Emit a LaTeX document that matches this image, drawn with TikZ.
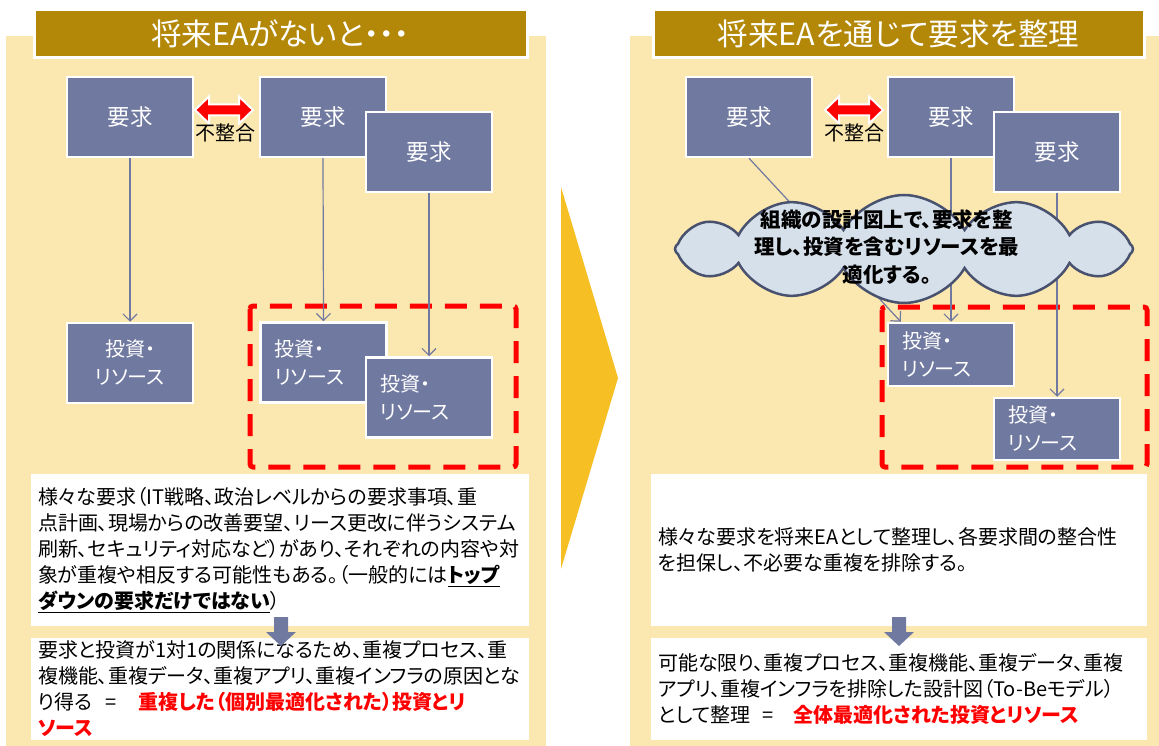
\documentclass[tikz,border=0pt]{standalone}
\usepackage{fontspec}
\setmainfont{Noto Sans CJK JP}[RawFeature=+palt]
\usetikzlibrary{shapes.symbols,arrows.meta}
\definecolor{panelbg}{HTML}{FBE7B0}
\definecolor{titlegold}{HTML}{B38808}
\definecolor{slate}{HTML}{7079A0}
\definecolor{cloudfill}{HTML}{D6E0EA}
\definecolor{clouddraw}{HTML}{48516E}
\definecolor{chevron}{HTML}{F6C024}
\tikzset{
  panel/.style={fill=panelbg, draw=none},
  titlebar/.style={fill=titlegold, draw=white, line width=3pt, text=white,
    font=\fontsize{30.5}{34}\selectfont, inner sep=0pt, minimum height=48pt},
  reqbox/.style={fill=slate, draw=white, line width=2.5pt, text=white,
    font=\fontsize{22.5}{28}\selectfont, minimum width=126pt, minimum height=80pt, inner sep=0pt},
  invbox/.style={reqbox, font=\fontsize{20}{28}\selectfont, align=left, text width=98pt, inner xsep=14pt},
  invboxc/.style={reqbox, font=\fontsize{20}{28}\selectfont, align=center},
  conn/.style={draw=slate, line width=1.2pt, -{Straight Barb[length=7pt,width=14pt]}},
  textbox/.style={fill=white, draw=none, minimum height=152pt, text width=484pt,
    align=left, inner xsep=7pt, inner ysep=0pt, font=\fontsize{20}{26}\selectfont, text=black},
  dashbox/.style={draw=red, line width=5pt, dash pattern=on 22pt off 13pt, rounded corners=3pt},
  clash/.style={fill=red, draw=white, line width=2pt},
  clashlabel/.style={font=\fontsize{20}{24}\selectfont, text=black, inner sep=0pt},
  downarrow/.style={fill=slate, draw=none},
  cloudbox/.style={cloud, cloud puffs=12, cloud puff arc=120, aspect=4.1, fill=cloudfill,
    draw=clouddraw, line width=2.5pt, minimum width=458pt, minimum height=108pt, inner sep=0pt},
  cloudtext/.style={font=\fontsize{20.5}{27.5}\selectfont\bfseries, text=black, align=center, inner sep=0pt},
}
\begin{document}
\begin{tikzpicture}[x=1pt,y=-1pt]
\useasboundingbox (0,0) rectangle (1159,746);
\fill[white] (0,0) rectangle (1159,746);
% panels
\fill[panel] (6,36) rectangle (546,746);
\fill[panel] (630,36) rectangle (1159,746);
% titles
\node[titlebar, minimum width=493pt] (tl) at (280.5,34) {将来EAがないと・・・};
\node[titlebar, minimum width=491pt] (tr) at (898.5,34) {将来EAを通じて要求を整理};
% chevron
\fill[chevron] (561,187) -- (618,378) -- (561,569) -- cycle;
% dashed groups
\draw[dashbox] (250,306) rectangle (516,467);
\draw[dashbox] (882,307) rectangle (1147,467);

% ---------- left side ----------
\node[reqbox] (A) at (130,117) {要求};
\node[reqbox] (B) at (323,117) {要求};
\node[reqbox] (C) at (429,152) {要求};
\node[invboxc] (L1) at (130,363) {投資・\\リソース};
\node[invbox] (L2) at (323.5,362.5) {投資・\\リソース};
\node[invbox] (L3) at (429,397.5) {投資・\\リソース};
\draw[conn] (A.south) -- (L1.north);
\draw[conn] (B.south) -- (L2.north);
\draw[conn] (C.south) -- (L3.north);
\coordinate (xl) at (224,110);
\filldraw[clash] (xl) ++(-29,0) -- ++(14,-13.5) -- ++(0,8) -- ++(30,0) -- ++(0,-8)
  -- ++(14,13.5) -- ++(-14,13.5) -- ++(0,-8) -- ++(-30,0) -- ++(0,8) -- cycle;
\node[clashlabel] (xlt) at (225,133) {不整合};

% ---------- right side ----------
\node[reqbox] (D) at (749,117) {要求};
\node[reqbox] (E) at (951,117) {要求};
\node[reqbox] (F) at (1057,152) {要求};
\node[invbox, minimum height=63pt] (R1) at (951,354.5) {投資・\\リソース};
\node[invbox, minimum height=62pt] (R2) at (1057,429) {投資・\\リソース};
\coordinate (r1in) at ([xshift=14pt]R1.north west);
\draw[conn] (D.south) -- (r1in);
\draw[conn] (E.south) -- (R1.north);
\draw[conn] (F.south) -- (R2.north);
\coordinate (xr) at (854,110);
\filldraw[clash] (xr) ++(-29,0) -- ++(14,-13.5) -- ++(0,8) -- ++(30,0) -- ++(0,-8)
  -- ++(14,13.5) -- ++(-14,13.5) -- ++(0,-8) -- ++(-30,0) -- ++(0,8) -- cycle;
\node[clashlabel] (xrt) at (854,133) {不整合};

% cloud
\node[cloudbox] (cl) at (904,249) {};
\node[cloudtext] (clt) at (887,247) {組織の設計図上で、要求を整\\理し、投資を含むリソースを最\\適化する。};

% ---------- text boxes ----------
\node[textbox] (tl1) at (280,550) {様々な要求（IT戦略、政治レベルからの要求事項、重\\
点計画、現場からの改善要望、リース更改に伴うシステム\\
刷新、セキュリティ対応など）があり、それぞれの内容や対\\
象が重複や相反する可能性もある。（一般的には\underline{\bfseries トップ}\\
\underline{\bfseries ダウンの要求だけではない}）};
\node[textbox, minimum height=102pt] (tl2) at (280,689) {要求と投資が1対1の関係になるため、重複プロセス、重\\
複機能、重複データ、重複アプリ、重複インフラの原因とな\\
り得る\hspace{13pt}=\hspace{22pt}{\color{red}\bfseries 重複した（個別最適化された）投資とリ}\\
{\color{red}\bfseries ソース}};
\node[textbox, text width=482pt] (tr1) at (899,550) {様々な要求を将来EAとして整理し、各要求間の整合性\\
を担保し、不必要な重複を排除する。};
\node[textbox, text width=482pt, minimum height=102pt] (tr2) at (899,689) {可能な限り、重複プロセス、重複機能、重複データ、重複\\
アプリ、重複インフラを排除した設計図（To-Beモデル）\\
として整理\hspace{12pt}=\hspace{20pt}{\color{red}\bfseries 全体最適化された投資とリソース}};

% down arrows
\coordinate (dl) at (281,617);
\fill[downarrow] (dl) ++(-7,0) -- ++(14,0) -- ++(0,15) -- ++(8,0) -- ++(-15,14)
  -- ++(-15,-14) -- ++(8,0) -- cycle;
\coordinate (dr) at (899,617);
\fill[downarrow] (dr) ++(-7,0) -- ++(14,0) -- ++(0,15) -- ++(8,0) -- ++(-15,14)
  -- ++(-15,-14) -- ++(8,0) -- cycle;
\end{tikzpicture}
\end{document}
